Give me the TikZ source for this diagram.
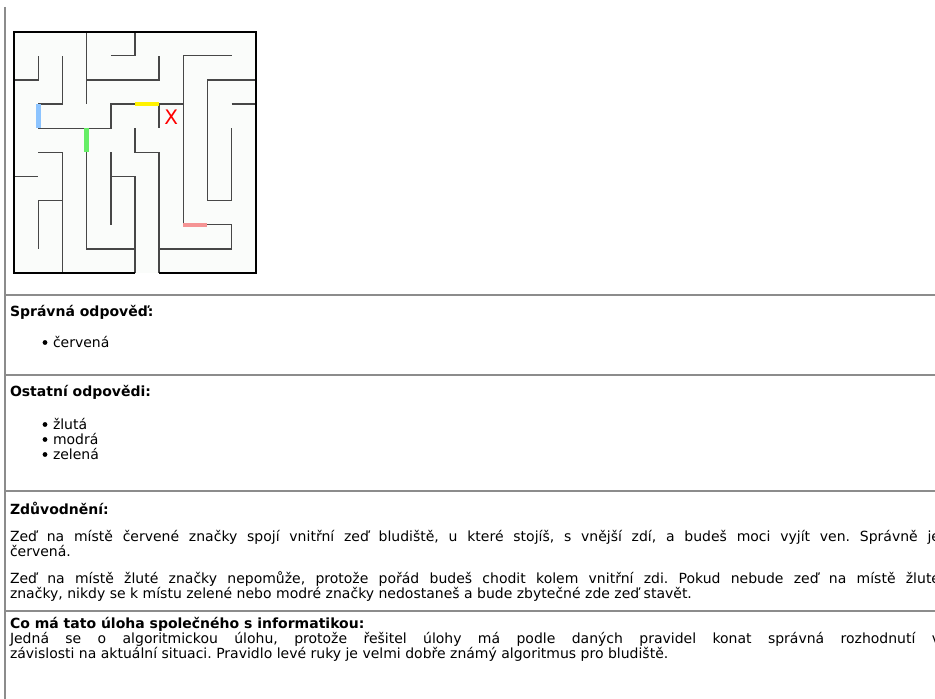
\documentclass[tikz,border=0pt]{standalone}
\usepackage{fontspec}
\setmainfont{DejaVu Sans}
\usetikzlibrary{positioning}
\definecolor{wallgray}{HTML}{474747}
\definecolor{rulegray}{HTML}{8C8C8C}
\definecolor{mazefill}{HTML}{FAFCFA}
\definecolor{tagyellow}{HTML}{FFF200}
\definecolor{tagblue}{HTML}{8CC4FF}
\definecolor{taggreen}{HTML}{66EE66}
\definecolor{tagred}{HTML}{F59494}
\tolerance=9999
\hbadness=10000
\frenchspacing

\begin{document}
\begin{tikzpicture}
  [x=1bp,y=-1bp,
  every node/.style={inner sep=0pt,outer sep=0pt,anchor=base west,
    font=\fontsize{14bp}{15bp}\selectfont},
  head/.style={font=\fontsize{14bp}{15bp}\selectfont\bfseries},
  para/.style={text width=930bp,align=justify},
  rule/.style={draw=rulegray,line width=1.6bp},
  wall/.style={draw=wallgray,line width=1.3bp},
  border/.style={draw=black,line width=2.2bp},
  tag/.style={line width=4.6bp}]
  \clip (0,0) rectangle (935,699);
  \fill[white] (0,0) rectangle (935,699);
  \draw[draw=rulegray,line width=1.1bp] (5,7) -- (5,699);
  \foreach \y in {295,375,491,611}
    \draw[rule] (5,\y) -- (935,\y);

  % maze, one unit = one cell
  \begin{scope}[shift={(14.3,31.7)},x=24.14bp,y=-24.14bp]
    \fill[mazefill] (0,0) rectangle (10,10);
    \draw[wall] (3,0) -- (3,3);
    \draw[wall] (4,1) -- (5,1) -- (5,0);
    \draw[wall] (0,2) -- (1,2) -- (1,1);
    \draw[wall] (1,3) -- (2,3) -- (2,1);
    \draw[wall] (3,2) -- (6,2) -- (6,1);
    \draw[wall] (9,1) -- (7,1) -- (7,8);
    \draw[wall] (10,2) -- (8,2) -- (8,7) -- (9,7) -- (9,4);
    \draw[wall] (9,3) -- (10,3);
    \draw[wall] (1,4) -- (4,4) -- (4,3) -- (5,3);
    \draw[wall] (7,3) -- (6,3) -- (6,4);
    \draw[wall] (3,5) -- (3,9) -- (5,9);
    \draw[wall] (5,4) -- (5,5) -- (6,5) -- (6,10);
    \draw[wall] (6,9) -- (9,9) -- (9,8) -- (8,8);
    \draw[wall] (1,5) -- (2,5) -- (2,10);
    \draw[wall] (0,6) -- (1,6);
    \draw[wall] (2,7) -- (1,7) -- (1,9);
    \draw[wall] (4,8) -- (4,5);
    \draw[wall] (4,6) -- (5,6) -- (5,10);
    \draw[border] (5,10) -- (0,10) -- (0,0) -- (10,0) -- (10,10) -- (6,10);
    \draw[tag,draw=tagyellow] (5,3) -- (6,3);
    \draw[tag,draw=tagblue] (1,3) -- (1,4);
    \draw[tag,draw=taggreen] (3,4) -- (3,5);
    \draw[tag,draw=tagred] (7,8) -- (8,8);
    \node[anchor=center,text=red,font=\fontsize{20bp}{20bp}\selectfont] (cross) at (6.5,3.55) {X};
  \end{scope}

  \node[head] (right) at (10,316) {Správná odpověď:};
  \node (correct) at (53,347) {červená};

  \node[head] (others) at (10,396) {Ostatní odpovědi:};
  \node (yellow) at (53,429) {žlutá};
  \node (blue) at (53,444) {modrá};
  \node (green) at (53,459) {zelená};
  \foreach \n in {correct,yellow,blue,green}
    \fill ([shift={(-8,-4.5)}]\n.base west) circle (2.4);

  \node[head] (reason) at (10,514) {Zdůvodnění:};
  \node[para] (reasonred) at (10,541) {Zeď na místě červené značky spojí vnitřní zeď bludiště, u které stojíš, s vnější zdí, a budeš moci vyjít ven. Správně je\linebreak červená.};
  \node[para] (reasonyellow) at (10,583) {Zeď na místě žluté značky nepomůže, protože pořád budeš chodit kolem vnitřní zdi. Pokud nebude zeď na místě žluté\linebreak značky, nikdy se k místu zelené nebo modré značky nedostaneš a bude zbytečné zde zeď stavět.};

  \node[head] (informatics) at (10,628) {Co má tato úloha společného s informatikou:};
  \node[para] (algorithm) at (10,643) {Jedná se o algoritmickou úlohu, protože řešitel úlohy má podle daných pravidel konat správná rozhodnutí v\linebreak závislosti na aktuální situaci. Pravidlo levé ruky je velmi dobře známý algoritmus pro bludiště.};
\end{tikzpicture}
\end{document}
